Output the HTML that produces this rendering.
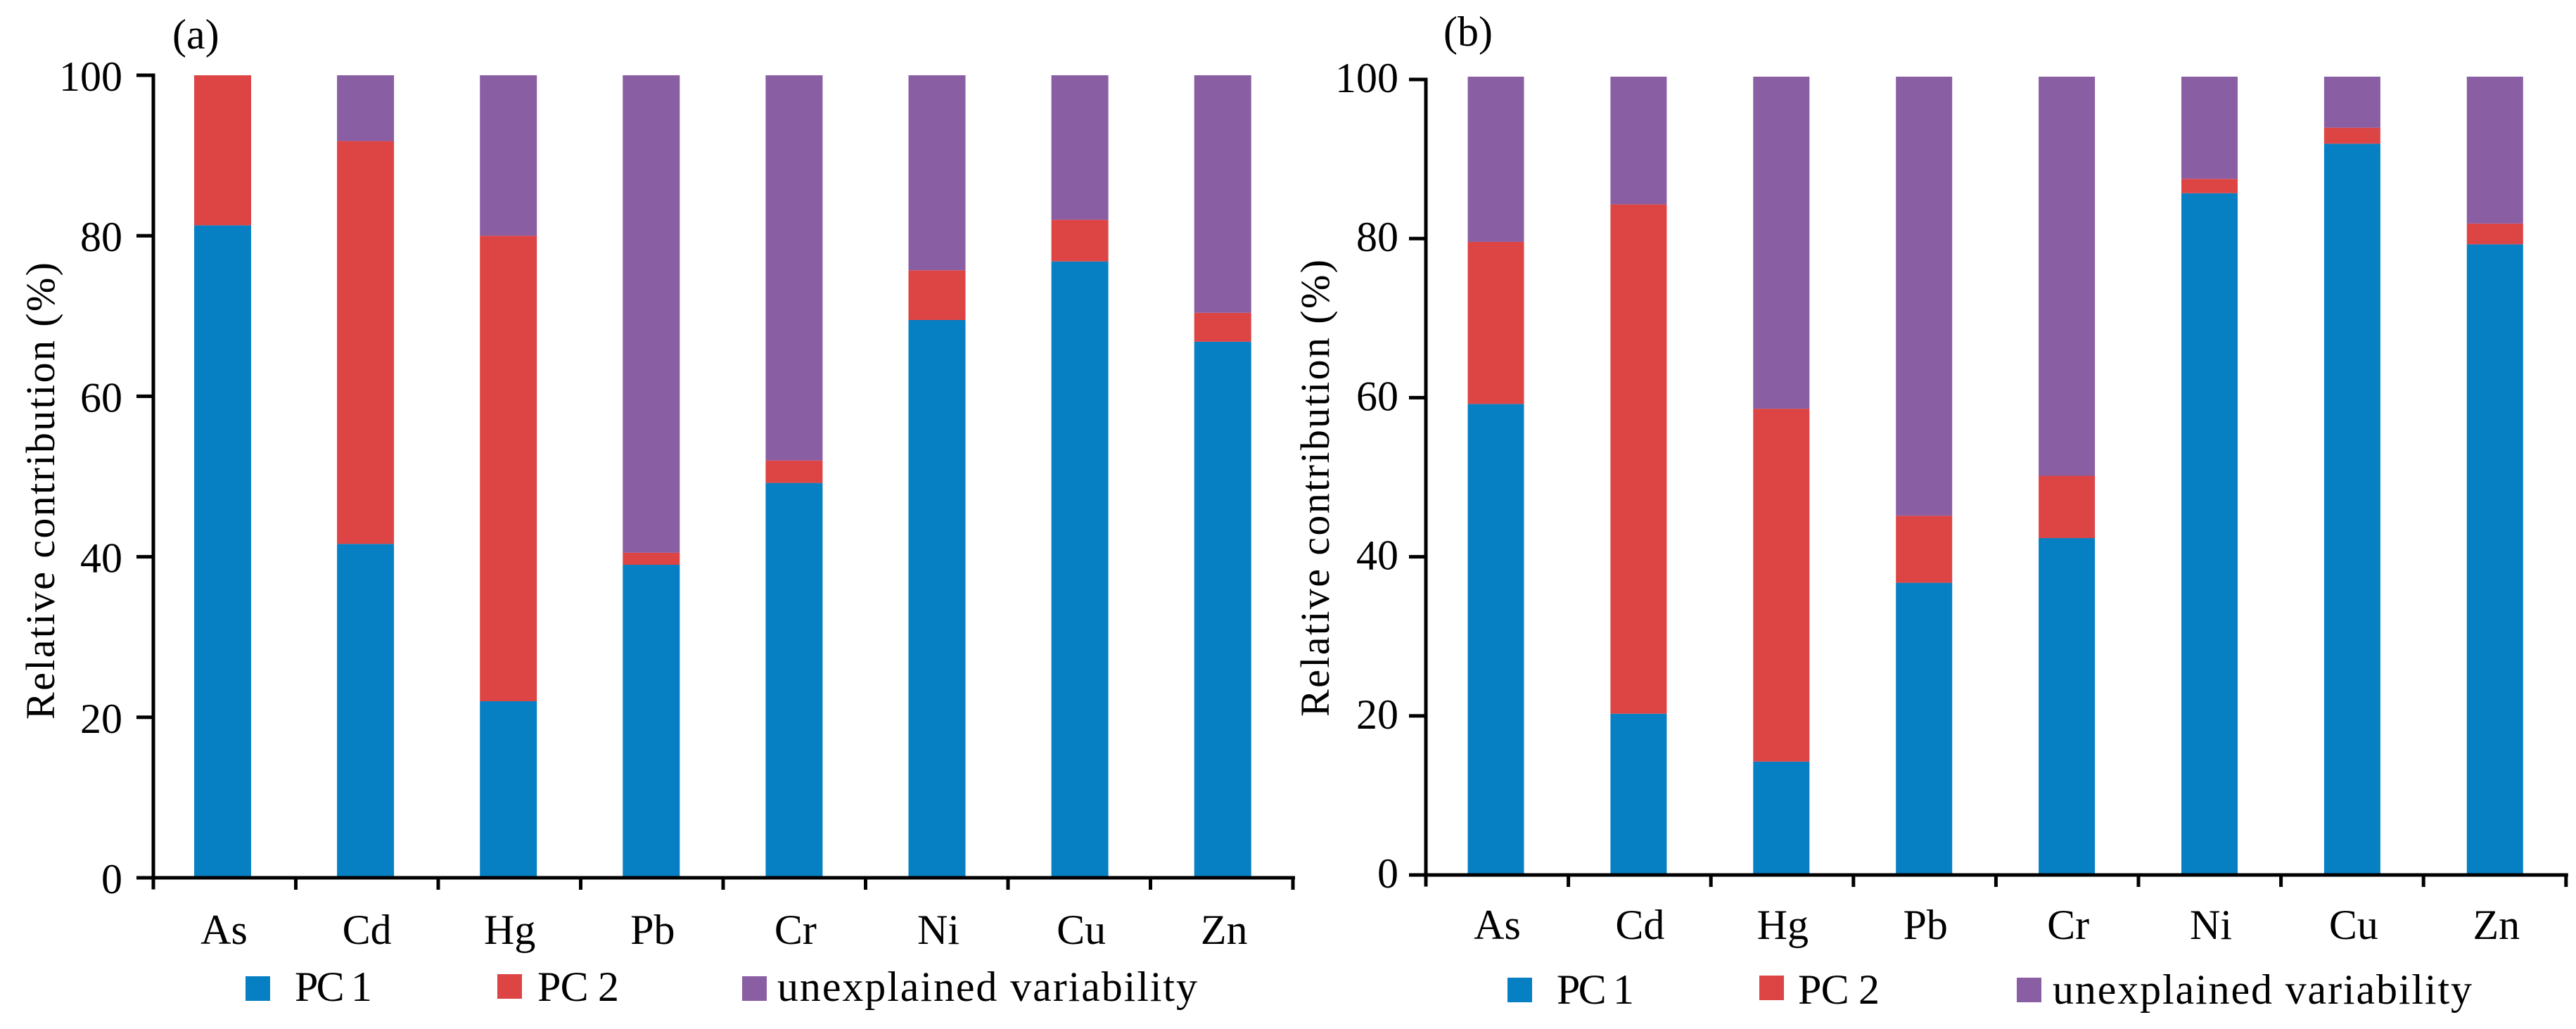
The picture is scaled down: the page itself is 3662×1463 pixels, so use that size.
<!DOCTYPE html>
<html lang="en">
<head>
<meta charset="utf-8">
<title>Relative contribution of principal components</title>
<style>
html,body{margin:0;padding:0;background:#fff;width:3662px;height:1463px;overflow:hidden}
svg{display:block}
text{font-family:"Liberation Serif",serif;fill:#000}
</style>
</head>
<body>
<svg id="chart" xmlns="http://www.w3.org/2000/svg" width="3662" height="1463" viewBox="0 0 3662 1463"></svg>
<script>
const categories = ["As","Cd","Hg","Pb","Cr","Ni","Cu","Zn"];
const yTicks = [0,20,40,60,80,100];
const seriesNames = ["PC 1","PC 2","unexplained variability"];
const a_pc1 = [81.3,41.6,22,39,49.2,69.5,76.8,66.8];
const a_pc2 = [18.7,50.2,58,1.5,2.8,6.2,5.2,3.6];
const a_unexplained = [0,8.2,20,59.5,48,24.3,18,29.6];
const b_pc1 = [59,20.2,14.2,36.6,42.2,85.4,91.6,79];
const b_pc2 = [20.3,63.8,44.2,8.4,7.8,1.8,2,2.6];
const b_unexplained = [20.7,16,41.6,55,50,12.8,6.4,18.4];

const svg = document.getElementById('chart');
const NS = 'http://www.w3.org/2000/svg';
const colors = ['#0680c3','#dd4444','#8a5ea3'];

function add(parent, tag, attrs, txt){
  const el = document.createElementNS(NS, tag);
  for (const k in attrs) el.setAttribute(k, attrs[k]);
  if (txt !== undefined) el.textContent = txt;
  parent.appendChild(el);
  return el;
}

function drawPanel(cfg, pc1, pc2, un){
  const g = add(svg, 'g', {});
  
  
  const y = v => cfg.y0 - v * (cfg.y0 - cfg.y100) / 100;
  const xTick = i => cfg.axisX + i * cfg.tickStep;
  const xBar = i => cfg.barStart + i * cfg.barStep;

  categories.forEach((cat, i) => {
    const stack = [pc1[i], pc2[i], un[i]];
    let base = 0;
    stack.forEach((v, s) => {
      if (v <= 0) return;
      const r = add(g, 'rect', {x: xBar(i) - cfg.barW / 2, y: y(base + v), width: cfg.barW, height: y(base) - y(base + v), fill: colors[s]});
      
      
      base += v;
    });
    const lbl = add(g, 'text', {x: xBar(i) + 2, y: cfg.catY, 'font-size': 60, 'text-anchor': 'middle'}, cat);
    
    
  });

  const yAxis = add(g, 'rect', {x: cfg.axisX - 2.5, y: cfg.yTop - 2.5, width: 5, height: cfg.y0 - cfg.yTop + 19, fill: '#000'});
  
  
  const xAxis = add(g, 'rect', {x: cfg.axisX - 24, y: cfg.y0 - 2.5, width: 8 * cfg.tickStep + 27, height: 5, fill: '#000'});
  
  

  for (let i = 1; i <= categories.length; i++){
    const t = add(g, 'rect', {x: xTick(i) - 2.5, y: cfg.y0, width: 5, height: 17, fill: '#000'});
    
    
  }
  const yTickPos = v => cfg.y0 - v * (cfg.y0 - cfg.yTop) / 100;
  yTicks.forEach(v => {
    const t = add(g, 'rect', {x: cfg.axisX - 24, y: yTickPos(v) - 2.5, width: 24, height: 5, fill: '#000'});
    
    
    const lbl = add(g, 'text', {x: cfg.numRight, y: yTickPos(v) + cfg.numDy, 'font-size': 60, 'text-anchor': 'end'}, String(v));
    
    
  });

  const title = add(g, 'text', {transform: 'translate(' + cfg.titleX + ',' + cfg.titleY + ') rotate(-90)', 'font-size': 58, 'text-anchor': 'middle', textLength: 650, lengthAdjust: 'spacing'}, 'Relative contribution (%)');
  
  

  const tag = add(g, 'text', {x: cfg.tagX, y: cfg.tagY, 'font-size': 60}, '(' + cfg.id + ')');
  
  

  seriesNames.forEach((name, s) => {
    const sw = add(g, 'rect', {x: cfg.swX[s], y: cfg.swY[s], width: 35, height: 35, fill: colors[s]});
    
    
    const lt = add(g, 'text', {x: cfg.txtX[s], y: cfg.legBase, 'font-size': 60, textLength: cfg.txtW[s], lengthAdjust: 'spacing'}, name);
    
    
  });
}

drawPanel({id:'a', axisX:218, tickStep:202.5, barStart:316.5, barStep:203.1, barW:81, y0:1248, y100:107, yTop:107, catY:1342, numRight:174, numDy:22, titleX:77, titleY:698, tagX:245, tagY:69, swX:[349,707,1055], swY:[1388,1385,1388], txtX:[419,764,1105], txtW:[110,116,597], legBase:1423}, a_pc1, a_pc2, a_unexplained);
drawPanel({id:'b', axisX:2027, tickStep:202.6, barStart:2126.5, barStep:202.9, barW:80, y0:1244, y100:109, yTop:113, catY:1335, numRight:1988, numDy:18, titleX:1889, titleY:694, tagX:2052, tagY:65, swX:[2143,2501,2867], swY:[1390,1387,1390], txtX:[2213,2556,2918], txtW:[110,116,596], legBase:1427}, b_pc1, b_pc2, b_unexplained);
</script>
</body>
</html>
